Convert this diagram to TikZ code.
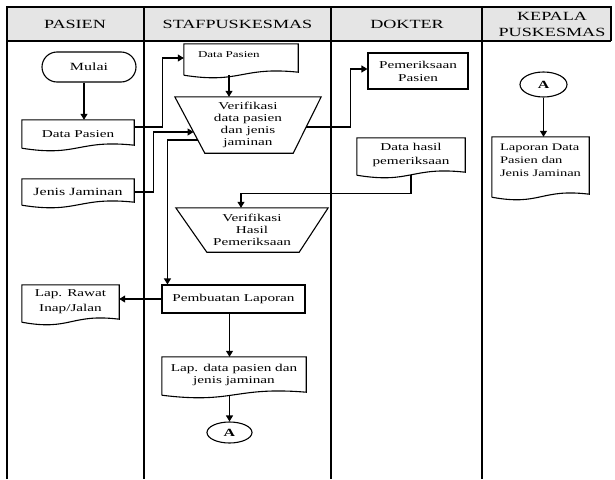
\documentclass[tikz,border=0pt]{standalone}
\usepackage{fontspec}
\setmainfont[FakeStretch=1.45]{Liberation Serif}
\usetikzlibrary{arrows.meta,calc,shapes.geometric,shapes.misc}

\tikzset{
  garis/.style={line width=1.1pt},
  teks/.style={font=\fontsize{10.5}{12}\selectfont, align=center, inner sep=0pt},
  proses/.style={teks, draw, garis},
  dokumen/.style={teks},
  manual/.style={teks},
  terminal/.style={teks, draw, garis, rounded rectangle},
  konektor/.style={draw, garis, ellipse, inner sep=0pt, font=\fontsize{11}{12}\selectfont\bfseries},
  judul/.style={font=\fontsize{12.5}{16}\selectfont, align=center},
  panah/.style={garis, -{Triangle[length=6pt,width=7pt]}},
}

% document outline, #1 = extra depth below the node
\newcommand{\dok}[2][0]{\draw[garis] ($(#2.south west)+(0,#1)$) -- (#2.north west) -- (#2.north east)
  -- ($(#2.south east)+(0,#1-3)$) .. controls ($(#2.south)+(0,#1-9)$) and ($(#2.south)+(0,#1+9)$) .. ($(#2.south west)+(0,#1)$);}
% manual operation outline
\newcommand{\trap}[3]{\draw[garis] (#1.north west) -- (#1.north east) -- ($(#1.south east)+(-#3,0)$) -- ($(#1.south west)+(#2,0)$) -- cycle;}

\begin{document}
\begin{tikzpicture}[x=1pt,y=-1pt]
    \useasboundingbox (0,0) rectangle (615,479);

    % Lanes
    \fill[gray!20] (7,7) rectangle (611,41);
    \draw[garis] (7,479) -- (7,7) -- (611,7) -- (611,41);
    \draw[garis] (7,41) -- (611,41);
    \foreach \x in {144,331,482}
      \draw[garis] (\x,7) -- (\x,479);

    \node[judul] (hpasien) at (75,24) {PASIEN};
    \node[judul] (hstaf) at (237.5,24) {STAFPUSKESMAS};
    \node[judul] (hdokter) at (407,24) {DOKTER};
    \node[judul] (hkepala) at (552,24) {KEPALA\\PUSKESMAS};

    % Pasien
    \node[terminal, minimum width=94pt, minimum height=30pt, font=\fontsize{11}{12}\selectfont] (mulai) at (89,67) {Mulai};
    \node[dokumen, minimum width=112pt, minimum height=28pt] (dp1) at (78,134) {Data Pasien};
    \node[dokumen, minimum width=112pt, minimum height=26pt, font=\fontsize{11}{12}\selectfont] (jj) at (78,192) {Jenis Jaminan};
    \node[dokumen, minimum width=97pt, minimum height=33pt, font=\fontsize{10.5}{15}\selectfont] (lr) at (70.5,301.5) {Lap. Rawat\\Inap/Jalan};

    % Staf puskesmas
    \node[dokumen, text width=86pt, align=left, inner xsep=14pt, minimum height=22pt, font=\fontsize{9}{11}\selectfont] (dp2) at (241,55) {Data Pasien};
    \node[manual, minimum width=146pt, minimum height=56pt] (ver) at (248,125) {Verifikasi\\data pasien\\dan jenis\\jaminan};
    \node[manual, minimum width=152pt, minimum height=44pt] (ver2) at (252,230) {Verifikasi\\Hasil\\Pemeriksaan};
    \node[proses, minimum width=143pt, minimum height=28pt] (pl) at (233.5,299) {Pembuatan Laporan};
    \node[dokumen, minimum width=144pt, minimum height=36pt] (ld) at (234,375) {Lap. data pasien dan\\jenis jaminan};
    \node[konektor, minimum width=45pt, minimum height=21pt] (a1) at (229.5,432.5) {A};

    % Dokter
    \node[proses, minimum width=100pt, minimum height=36pt, font=\fontsize{10.5}{13}\selectfont] (pem) at (418,71) {Pemeriksaan\\Pasien};
    \node[dokumen, minimum width=108pt, minimum height=34pt, font=\fontsize{10.5}{14}\selectfont] (dh) at (411,155) {Data hasil\\pemeriksaan};

    % Kepala puskesmas
    \node[konektor, minimum width=47pt, minimum height=25pt] (a2) at (543.5,84.5) {A};
    \node[dokumen, minimum width=97pt, minimum height=46pt, align=left, font=\fontsize{10}{13}\selectfont] (lap) at (540.5,160) {Laporan Data\\Pasien dan\\Jenis Jaminan};

    % Outlines
    \dok{dp1}
    \dok{jj}
    \dok[4]{lr}
    \dok[9]{dp2}
    \dok[2]{ld}
    \dok[3]{dh}
    \dok[14]{lap}
    \trap{ver}{30}{28}
    \trap{ver2}{31}{29}

    % Connectors
    \draw[panah] ($(mulai.south)+(-5,0)$) coordinate (m1) -- (m1 |- dp1.north);
    \draw[panah] ($(dp1.east)+(0,-7)$) -- ++(28,0) |- ($(dp2.west)+(0,3)$);
    \draw[panah] (jj.east) -- ++(19,0) |- ($(ver.west)+(18.75,7)$);
    \draw[panah] ($(dp2.south)+(-12,9)$) coordinate (d2) -- (d2 |- ver.north);
    \draw[panah] ($(ver.east)+(-15,2)$) -- ++(44,0) |- ($(pem.west)+(0,-2)$);
    \draw[panah] ($(dh.south)+(0,3)$) -- ++(0,18) -| ($(ver2.north)+(-11,0)$);
    \draw[panah] ($(ver.west)+(23,15)$) -| ($(pl.north west)+(6,0)$);
    \draw[panah] (pl.west) -- (pl.west -| lr.east);
    \draw[panah] (pl.south -| a1) -- (ld.north -| a1);
    \draw[panah] ($(ld.south -| a1)+(0,2)$) -- (a1);
    \draw[panah] (a2) -- (a2 |- lap.north);

\end{tikzpicture}
\end{document}
